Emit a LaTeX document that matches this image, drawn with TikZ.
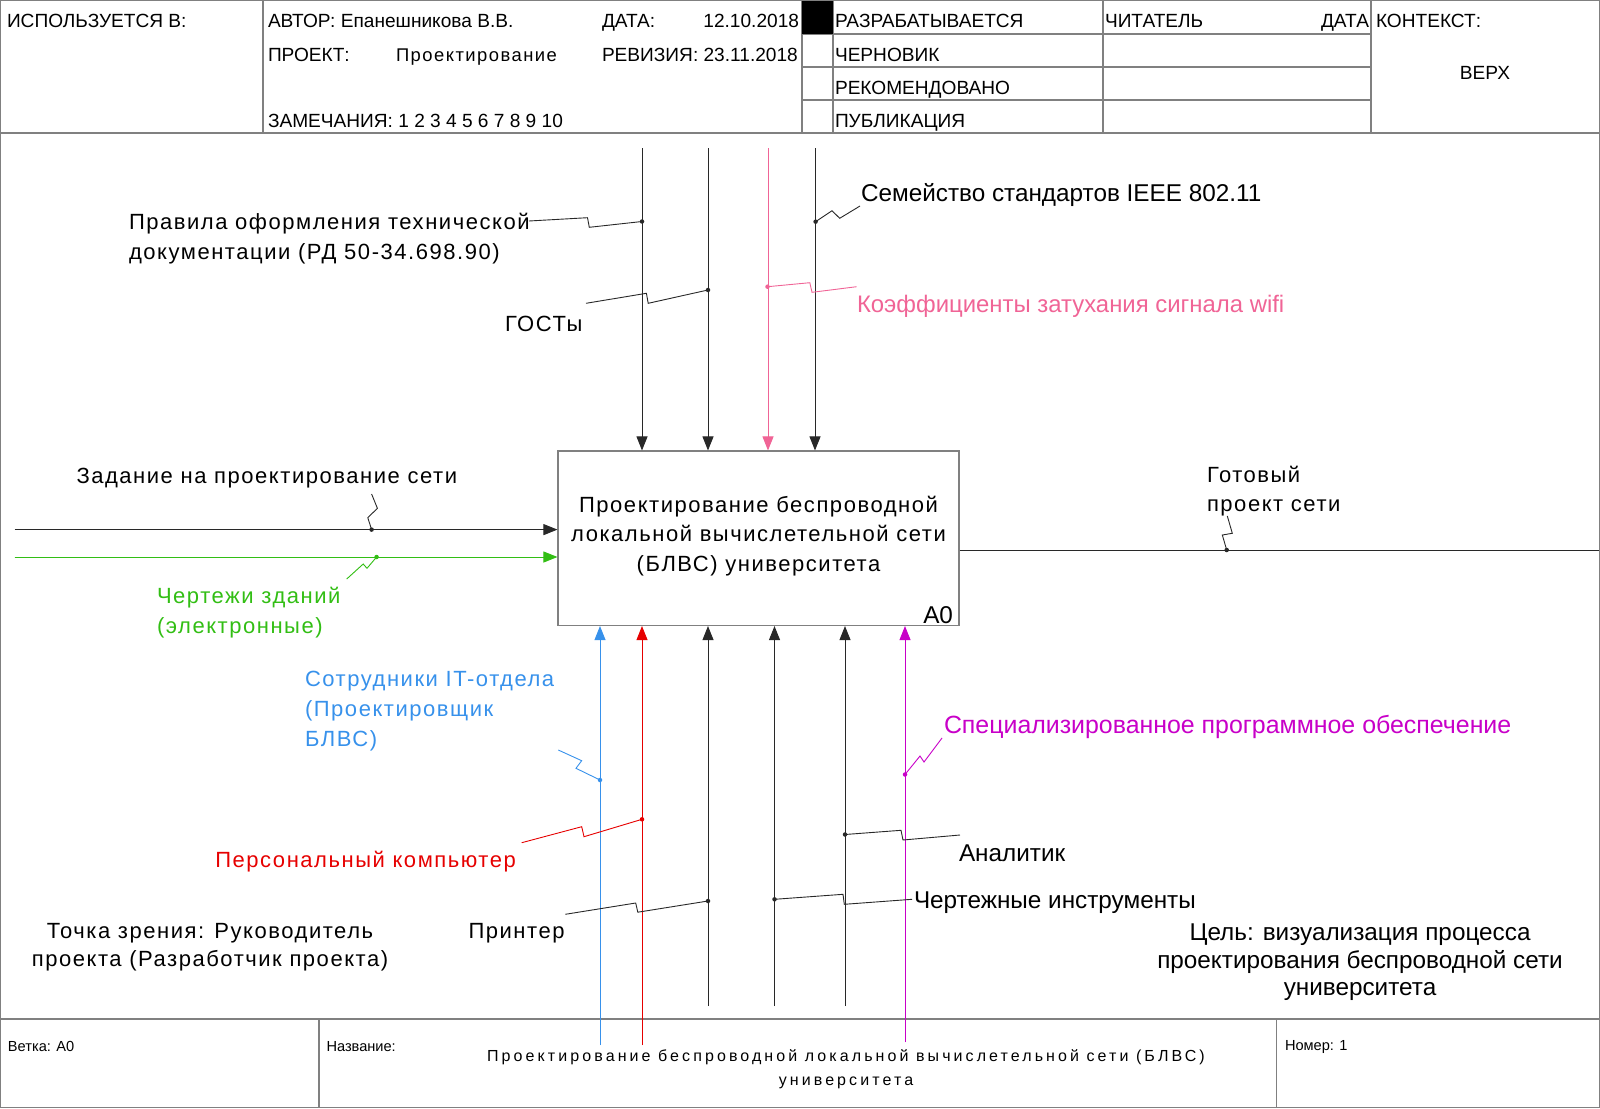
\documentclass[tikz,border=0pt]{standalone}
\usepackage{fontspec}
\setmainfont{Liberation Sans}
\newfontfamily\labfam[LetterSpace=7]{Liberation Sans}
\newfontfamily\hdrspfam[LetterSpace=8]{Liberation Sans}
\newfontfamily\titfam[LetterSpace=19.3]{Liberation Sans}
\usetikzlibrary{arrows.meta}
\definecolor{framec}{RGB}{128,128,128}
\definecolor{linec}{RGB}{40,40,40}
\definecolor{pinkc}{RGB}{240,100,150}
\definecolor{greenc}{RGB}{50,190,20}
\definecolor{bluec}{RGB}{55,145,235}
\definecolor{redc}{RGB}{230,0,0}
\definecolor{magc}{RGB}{200,0,200}
\newcommand{\hdr}{\fontsize{19.1}{22}\selectfont}
\newcommand{\hdrsp}{\hdrspfam\fontsize{18.4}{22}\selectfont}
\newcommand{\lab}{\labfam\fontsize{22}{29.6}\selectfont}
\newcommand{\labc}{\fontsize{24.3}{27.5}\selectfont}
\newcommand{\sml}{\fontsize{14.6}{18}\selectfont}
\newcommand{\tit}{\titfam\fontsize{16}{24}\selectfont}
\begin{document}
\begin{tikzpicture}[x=1pt,y=-1pt,
  frame/.style={draw=framec,line width=1.1pt},
  conn/.style={draw=linec,line width=0.9pt},
  arr/.style={conn,-{Triangle[length=14pt,width=11pt]}},
  dotc/.style={circle,fill=linec,inner sep=0pt,minimum size=4.5pt},
  txt/.style={inner sep=0pt,outer sep=0pt,text=black}]
\useasboundingbox (0,0) rectangle (1600,1108);
% ---------- frame ----------
\draw[frame] (0.6,0.6) rectangle (1599.4,1107.4);
\draw[frame] (0,133) -- (1600,133);
\draw[frame] (263,0) -- (263,133);
\draw[frame] (802,0) -- (802,133);
\draw[frame] (833,0) -- (833,133);
\draw[frame] (1103,0) -- (1103,133);
\draw[frame] (1371,0) -- (1371,133);
\draw[frame] (802,34) -- (1371,34);
\draw[frame] (802,67) -- (1371,67);
\draw[frame] (802,100) -- (1371,100);
\fill[black] (802,0.6) rectangle (833,34);
\draw[frame] (0,1019) -- (1600,1019);
\draw[frame] (319,1019) -- (319,1108);
\draw[frame] (1276.5,1019) -- (1276.5,1108);
% ---------- header texts ----------
\node[txt,anchor=base west,font=\hdr] (h1) at (7,28) {ИСПОЛЬЗУЕТСЯ В:};
\node[txt,anchor=base west,font=\hdr] (h2) at (268,28) {АВТОР: Епанешникова В.В.};
\node[txt,anchor=base west,font=\hdr] (h3) at (602,28) {ДАТА:};
\node[txt,anchor=base east,font=\hdr] (h4) at (799,28) {12.10.2018};
\node[txt,anchor=base west,font=\hdr] (h5) at (268,61.5) {ПРОЕКТ:};
\node[txt,anchor=base west,font=\hdrsp] (h6) at (396,61.5) {Проектирование};
\node[txt,anchor=base west,font=\hdr] (h7) at (602,61.5) {РЕВИЗИЯ: 23.11.2018};
\node[txt,anchor=base west,font=\hdr] (h8) at (268,127) {ЗАМЕЧАНИЯ: 1 2 3 4 5 6 7 8 9 10};
\node[txt,anchor=base west,font=\hdr] (h9) at (835,28) {РАЗРАБАТЫВАЕТСЯ};
\node[txt,anchor=base west,font=\hdr] (h10) at (835,61.5) {ЧЕРНОВИК};
\node[txt,anchor=base west,font=\hdr] (h11) at (835,94.5) {РЕКОМЕНДОВАНО};
\node[txt,anchor=base west,font=\hdr] (h12) at (835,127) {ПУБЛИКАЦИЯ};
\node[txt,anchor=base west,font=\hdr] (h13) at (1105,28) {ЧИТАТЕЛЬ};
\node[txt,anchor=base east,font=\hdr] (h14) at (1369,28) {ДАТА};
\node[txt,anchor=base west,font=\hdr] (h15) at (1376,28) {КОНТЕКСТ:};
\node[txt,anchor=base,font=\hdr] (h16) at (1485,79) {ВЕРХ};
% ---------- activity box ----------
\node[draw=framec,line width=1.1pt,minimum width=401pt,minimum height=174.5pt,inner sep=0pt] (A0) at (758.5,538.25) {};
\node[txt,align=center,font=\lab] (A0t) at (758.5,536) {Проектирование беспроводной\\локальной вычислетельной сети\\(БЛВС) университета};
\node[txt,anchor=base east,font=\labc] (A0num) at (953,623) {A0};
% ---------- controls (top) ----------
\coordinate (t1) at (642,148);
\coordinate (t2) at (708,148);
\coordinate (t3) at (768,148);
\coordinate (t4) at (815,148);
\draw[arr] (t1) -- (t1 |- A0.north);
\draw[arr] (t2) -- (t2 |- A0.north);
\draw[arr,draw=pinkc,fill=pinkc] (t3) -- (t3 |- A0.north);
\draw[arr] (t4) -- (t4 |- A0.north);
% ---------- inputs ----------
\coordinate (i1) at (14.6,529.6);
\coordinate (i2) at (14.6,557);
\draw[arr] (i1) -- (i1 -| A0.west);
\draw[arr,draw=greenc,fill=greenc] (i2) -- (i2 -| A0.west);
% ---------- output ----------
\coordinate (o1) at (1599,550);
\draw[conn] (o1 -| A0.east) -- (o1);
% ---------- mechanisms ----------
\coordinate (m1) at (600,1045);
\coordinate (m2) at (642,1045);
\coordinate (m3) at (708,1006);
\coordinate (m4) at (774.5,1006);
\coordinate (m5) at (845,1006);
\coordinate (m6) at (905,1042);
\draw[arr,draw=bluec,fill=bluec] (m1) -- (m1 |- A0.south);
\draw[arr,draw=redc,fill=redc] (m2) -- (m2 |- A0.south);
\draw[arr] (m3) -- (m3 |- A0.south);
\draw[arr] (m4) -- (m4 |- A0.south);
\draw[arr] (m5) -- (m5 |- A0.south);
\draw[arr,draw=magc,fill=magc] (m6) -- (m6 |- A0.south);
% ---------- labels ----------
\node[txt,anchor=north west,align=left,font=\lab] (L1) at (129,213.4) {Правила оформления технической\\документации (РД 50-34.698.90)};
\node[txt,anchor=base west,font=\lab] (L2) at (505,331.5) {ГОСТы};
\node[txt,anchor=base west,font=\labc] (L3) at (861,201.3) {Семейство стандартов IEEE 802.11};
\node[txt,anchor=base west,text=pinkc,font={\fontsize{23.9}{27.5}\selectfont}] (L4) at (857,312.3) {Коэффициенты затухания сигнала wifi};
\node[txt,anchor=base west,font=\lab] (L5) at (76.5,483.5) {Задание на проектирование сети};
\node[txt,anchor=north west,align=left,text=greenc,font=\lab] (L6) at (157,587.4) {Чертежи зданий\\(электронные)};
\node[txt,anchor=north west,align=left,font=\lab] (L7) at (1207,466) {Готовый\\проект сети};
\node[txt,anchor=north west,align=left,text=bluec,font={\labfam\fontsize{22}{30}\selectfont}] (L8) at (305,671.4) {Сотрудники IT-отдела\\(Проектировщик\\БЛВС)};
\node[txt,anchor=base west,text=magc,font={\fontsize{24.9}{27.5}\selectfont}] (L9) at (944,733.8) {Специализированное программное обеспечение};
\node[txt,anchor=base west,text=redc,font=\lab] (L10) at (215.3,867.5) {Персональный компьютер};
\node[txt,anchor=base west,font=\labc] (L11) at (959,861.3) {Аналитик};
\node[txt,anchor=base west,font=\labc] (L12) at (914,908.8) {Чертежные инструменты};
\node[txt,anchor=base west,font=\lab] (L13) at (468.5,938.5) {Принтер};
\node[txt,anchor=north,align=center,font={\labfam\fontsize{22}{28}\selectfont}] (L14) at (210,923.4) {Точка зрения: Руководитель\\проекта (Разработчик проекта)};
\node[txt,anchor=north,align=center,font=\labc] (L15) at (1360,924) {Цель: визуализация процесса\\проектирования беспроводной сети\\университета};
% ---------- bottom frame texts ----------
\node[txt,anchor=base west,font=\sml] (B1) at (8,1051) {Ветка: A0};
\node[txt,anchor=base west,font=\sml] (B2) at (326.5,1051) {Название:};
\node[txt,anchor=base west,font=\sml] (B3) at (1285,1050) {Номер: 1};
\node[txt,anchor=north,align=center,font=\tit] (B4) at (846,1049.8) {Проектирование беспроводной локальной вычислетельной сети (БЛВС)\\университета};
% ---------- squiggles and dots ----------
\node[dotc] (d1) at (642,221.5) {};
\coordinate (s1a) at (529,221);
\coordinate (s1b) at (587.5,217.7);
\coordinate (s1c) at (589.3,227.3);
\draw[conn] (s1a) -- (s1b) -- (s1c) -- (d1.center);
\node[dotc] (d2) at (708,290) {};
\coordinate (s2a) at (586,303.3);
\coordinate (s2b) at (646.4,293.3);
\coordinate (s2c) at (648.2,303.3);
\draw[conn] (s2a) -- (s2b) -- (s2c) -- (d2.center);
\node[dotc] (d3) at (815.6,221.7) {};
\coordinate (s3a) at (832,210.7);
\coordinate (s3b) at (839.7,218.3);
\coordinate (s3c) at (860,206);
\draw[conn] (d3.center) -- (s3a) -- (s3b) -- (s3c);
\node[dotc,fill=pinkc] (d4) at (767.5,286.7) {};
\coordinate (s4a) at (809.8,282.7);
\coordinate (s4b) at (812,292.3);
\coordinate (s4c) at (856.7,286.7);
\draw[conn,draw=pinkc] (d4.center) -- (s4a) -- (s4b) -- (s4c);
\node[dotc] (d5) at (371.6,529.6) {};
\coordinate (s5a) at (367.8,517.7);
\coordinate (s5b) at (377.4,508.3);
\coordinate (s5c) at (371.6,494);
\draw[conn] (d5.center) -- (s5a) -- (s5b) -- (s5c);
\node[dotc,fill=greenc] (d6) at (376.6,557) {};
\coordinate (s6a) at (367,568.3);
\coordinate (s6b) at (363.2,564);
\coordinate (s6c) at (346.7,579);
\draw[conn,draw=greenc] (d6.center) -- (s6a) -- (s6b) -- (s6c);
\node[dotc] (d7) at (1226.7,550) {};
\coordinate (s7a) at (1222.3,535);
\coordinate (s7b) at (1232.3,533.3);
\coordinate (s7c) at (1227.3,516);
\draw[conn] (d7.center) -- (s7a) -- (s7b) -- (s7c);
\node[dotc,fill=bluec] (d8) at (600,780) {};
\coordinate (s8a) at (576,768.3);
\coordinate (s8b) at (581.7,760.7);
\coordinate (s8c) at (558.3,750);
\draw[conn,draw=bluec] (d8.center) -- (s8a) -- (s8b) -- (s8c);
\node[dotc,fill=redc] (d9) at (642,819.3) {};
\coordinate (s9a) at (584,836.7);
\coordinate (s9b) at (581.7,826.7);
\coordinate (s9c) at (521.7,842.7);
\draw[conn,draw=redc] (d9.center) -- (s9a) -- (s9b) -- (s9c);
\node[dotc,fill=magc] (d10) at (905,774.5) {};
\coordinate (s10a) at (920,756);
\coordinate (s10b) at (924,762);
\coordinate (s10c) at (942,738);
\draw[conn,draw=magc] (d10.center) -- (s10a) -- (s10b) -- (s10c);
\node[dotc] (d11) at (845,834.5) {};
\coordinate (s11a) at (901,830.3);
\coordinate (s11b) at (903,840);
\coordinate (s11c) at (960,835);
\draw[conn] (d11.center) -- (s11a) -- (s11b) -- (s11c);
\node[dotc] (d12) at (774.5,899.3) {};
\coordinate (s12a) at (843,894.3);
\coordinate (s12b) at (844.3,904.3);
\coordinate (s12c) at (912,899.3);
\draw[conn] (d12.center) -- (s12a) -- (s12b) -- (s12c);
\node[dotc] (d13) at (708,901) {};
\coordinate (s13a) at (637.8,912.2);
\coordinate (s13b) at (635.7,903);
\coordinate (s13c) at (565.3,914.3);
\draw[conn] (d13.center) -- (s13a) -- (s13b) -- (s13c);
\end{tikzpicture}
\end{document}
